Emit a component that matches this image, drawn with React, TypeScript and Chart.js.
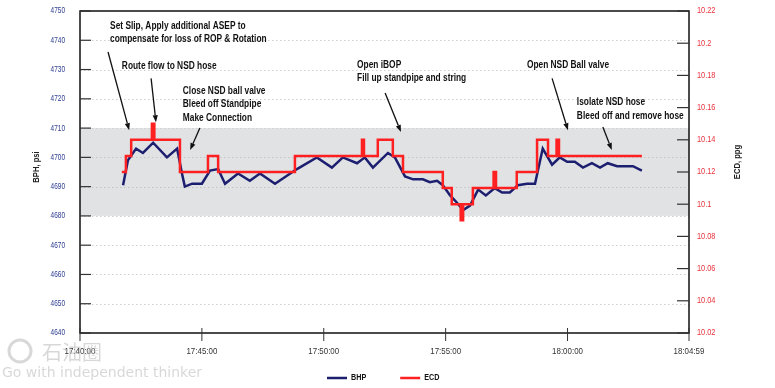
import React, { useEffect, useRef } from "react";
import { Chart, registerables } from "chart.js";
Chart.register(...registerables);

const startTime = "17:40:00";
const endTime = "18:04:59";
const xTickTimes = ["17:40:00", "17:45:00", "17:50:00", "17:55:00", "18:00:00", "18:04:59"];

const bhpTimes = [
  "17:41:46", "17:41:58", "17:42:18", "17:42:35", "17:43:00", "17:43:34", "17:43:59", "17:44:11",
  "17:44:18", "17:44:36", "17:45:00", "17:45:20", "17:45:40", "17:45:57", "17:46:29", "17:46:58",
  "17:47:23", "17:48:00", "17:48:54", "17:49:43", "17:50:20", "17:50:47", "17:51:22", "17:51:41",
  "17:52:01", "17:52:38", "17:52:55", "17:53:20", "17:53:40", "17:54:04", "17:54:21", "17:54:39",
  "17:54:53", "17:55:11", "17:55:28", "17:55:43", "17:56:00", "17:56:20", "17:56:39", "17:57:01",
  "17:57:19", "17:57:38", "17:57:58", "17:58:20", "17:58:40", "17:58:59", "17:59:22", "17:59:41",
  "17:59:59", "18:00:18", "18:00:38", "18:01:00", "18:01:20", "18:01:39", "18:02:02", "18:02:41",
  "18:03:03",
];
const bhpValues = [
  4690.5, 4699, 4703, 4701.5, 4705, 4700, 4703, 4694.5,
  4690, 4691, 4691, 4695.5, 4696, 4691, 4694.5, 4692,
  4694.5, 4691, 4696, 4700, 4696.5, 4700, 4698, 4700,
  4696.5, 4701.5, 4700, 4693.5, 4692.5, 4692.5, 4691.5, 4692,
  4690.5, 4687, 4684.5, 4682, 4683.5, 4689, 4687, 4689.5,
  4688, 4688, 4690.5, 4691, 4691, 4703, 4697.5, 4700,
  4698.5, 4698.5, 4696.5, 4698, 4696.5, 4698, 4697, 4697,
  4695.5,
];

const ecdTimes = [
  "17:41:43", "17:41:53", "17:42:06", "17:42:57", "17:43:03", "17:44:06", "17:45:15", "17:45:40",
  "17:48:49", "17:51:34", "17:51:39", "17:52:13", "17:52:50", "17:53:15", "17:54:53", "17:55:15",
  "17:55:37", "17:55:43", "17:56:07", "17:56:58", "17:57:04", "17:57:55", "17:58:45", "17:59:12",
  "17:59:33", "17:59:39", "18:03:03",
];
const ecdValues = [
  10.12, 10.13, 10.14, 10.15, 10.14, 10.12, 10.13, 10.12,
  10.13, 10.14, 10.13, 10.14, 10.13, 10.12, 10.11, 10.10,
  10.09, 10.10, 10.11, 10.12, 10.11, 10.12, 10.14, 10.13,
  10.14, 10.13, 10.13,
];

const bhpTicks = [4640, 4650, 4660, 4670, 4680, 4690, 4700, 4710, 4720, 4730, 4740, 4750];
const ecdTicks = [10.02, 10.04, 10.06, 10.08, 10.1, 10.12, 10.14, 10.16, 10.18, 10.2, 10.22];
const bandRange = [4680, 4710];

const annotations = [
  { lines: ["Set Slip, Apply additional ASEP to", "compensate for loss of ROP & Rotation"], at: ["17:41:14", 4745], from: ["17:41:09", 4736], to: ["17:42:01", 4709.3] },
  { lines: ["Route flow to NSD hose"], at: ["17:41:43", 4731.2], from: ["17:42:55", 4727], to: ["17:43:07", 4712] },
  { lines: ["Close NSD ball valve", "Bleed off Standpipe", "Make Connection"], at: ["17:44:13", 4722.7], from: ["17:44:55", 4710], to: ["17:44:31", 4702.5] },
  { lines: ["Open iBOP", "Fill up standpipe and string"], at: ["17:51:22", 4731.6], from: ["17:52:31", 4722], to: ["17:53:10", 4708.7] },
  { lines: ["Open NSD Ball valve"], at: ["17:58:20", 4731.6], from: ["17:59:22", 4727], to: ["18:00:01", 4709.3] },
  { lines: ["Isolate NSD hose", "Bleed off and remove hose"], at: ["18:00:23", 4718.9], from: ["18:01:27", 4710.4], to: ["18:01:49", 4702.5] },
];

const BHP_COLOR = "#1c1f6f";
const ECD_COLOR = "#ff2121";
const SANS = "'Liberation Sans', Arial, sans-serif";

const abs = (s: string) => {
  const [h, m, x] = s.split(":").map(Number);
  return h * 3600 + m * 60 + x;
};
const toSec = (s: string) => abs(s) - abs(startTime);
const fmtEcd = (v: number) => String(Number(v.toFixed(2)));

function narrowText(ctx: CanvasRenderingContext2D, text: string, x: number, y: number, sx: number, align: "left" | "right" | "center") {
  ctx.save();
  ctx.translate(x, y);
  ctx.scale(sx, 1);
  ctx.textAlign = align;
  ctx.fillText(text, 0, 0);
  ctx.restore();
}

const decorPlugin = {
  id: "decor",
  beforeDatasetsDraw(chart: any) {
    const { ctx, chartArea: a, scales } = chart;
    const y = scales.y;
    ctx.save();
    const top = y.getPixelForValue(bandRange[1]);
    const bot = y.getPixelForValue(bandRange[0]);
    ctx.fillStyle = "#e1e2e4";
    ctx.fillRect(a.left, top, a.right - a.left, bot - top);
    ctx.setLineDash([1.5, 2.5]);
    ctx.lineWidth = 1;
    bhpTicks.forEach((v) => {
      if (v === bhpTicks[0] || v === bhpTicks[bhpTicks.length - 1]) return;
      const py = Math.round(y.getPixelForValue(v)) + 0.5;
      ctx.strokeStyle = v > bandRange[0] && v < bandRange[1] ? "#c4c5c8" : "#cfcfcf";
      ctx.beginPath();
      ctx.moveTo(a.left, py);
      ctx.lineTo(a.right, py);
      ctx.stroke();
    });
    ctx.restore();
  },
  afterDatasetsDraw(chart: any) {
    const { ctx, chartArea: a, scales } = chart;
    const x = scales.x, y = scales.y, y1 = scales.y1;
    ctx.save();
    // frame
    ctx.strokeStyle = "#111";
    ctx.lineWidth = 1.5;
    ctx.strokeRect(a.left, a.top, a.right - a.left, a.bottom - a.top);
    // tick marks + labels
    ctx.lineWidth = 1.2;
    ctx.strokeStyle = "#333";
    ctx.textBaseline = "middle";
    ctx.font = `9px ${SANS}`;
    ctx.fillStyle = "#2a3a8f";
    bhpTicks.forEach((v) => {
      const py = y.getPixelForValue(v);
      ctx.beginPath(); ctx.moveTo(a.left, py); ctx.lineTo(a.left + 11, py); ctx.stroke();
      narrowText(ctx, String(v), a.left - 15, py, 0.72, "right");
    });
    ctx.font = `9px ${SANS}`;
    ctx.fillStyle = "#e8323c";
    ecdTicks.forEach((v) => {
      const py = y1.getPixelForValue(v);
      ctx.beginPath(); ctx.moveTo(a.right - 12, py); ctx.lineTo(a.right, py); ctx.stroke();
      narrowText(ctx, fmtEcd(v), a.right + 8, py, 0.82, "left");
    });
    ctx.lineWidth = 1;
    ctx.fillStyle = "#333";
    xTickTimes.forEach((t) => {
      const px = x.getPixelForValue(toSec(t));
      ctx.beginPath(); ctx.moveTo(px, a.bottom - 5); ctx.lineTo(px, a.bottom + 8); ctx.stroke();
      narrowText(ctx, t, px, a.bottom + 19, 0.88, "center");
    });
    // annotations
    ctx.fillStyle = "#111";
    ctx.strokeStyle = "#111";
    ctx.font = `bold 11px ${SANS}`;
    annotations.forEach((an) => {
      const tx = x.getPixelForValue(toSec(an.at[0] as string));
      const ty = y.getPixelForValue(an.at[1] as number);
      an.lines.forEach((l, i) => narrowText(ctx, l, tx, ty + i * 13.5, 0.76, "left"));
      const fx = x.getPixelForValue(toSec(an.from[0] as string));
      const fy = y.getPixelForValue(an.from[1] as number);
      const ex = x.getPixelForValue(toSec(an.to[0] as string));
      const ey = y.getPixelForValue(an.to[1] as number);
      const ang = Math.atan2(ey - fy, ex - fx);
      const hl = 7, hw = 2.6;
      const bx = ex - hl * Math.cos(ang), by = ey - hl * Math.sin(ang);
      ctx.lineWidth = 1.3;
      ctx.beginPath(); ctx.moveTo(fx, fy); ctx.lineTo(bx, by); ctx.stroke();
      ctx.beginPath();
      ctx.moveTo(ex, ey);
      ctx.lineTo(bx + hw * Math.sin(ang), by - hw * Math.cos(ang));
      ctx.lineTo(bx - hw * Math.sin(ang), by + hw * Math.cos(ang));
      ctx.closePath(); ctx.fill();
    });
    // axis titles
    ctx.font = `bold 9px ${SANS}`;
    ctx.fillStyle = "#222";
    ctx.save();
    ctx.translate(37, (a.top + a.bottom) / 2 - 5);
    ctx.rotate(-Math.PI / 2);
    narrowText(ctx, "BPH, psi", 0, 0, 0.85, "center");
    ctx.restore();
    ctx.save();
    ctx.translate(738, (a.top + a.bottom) / 2 - 10);
    ctx.rotate(-Math.PI / 2);
    narrowText(ctx, "ECD, ppg", 0, 0, 0.85, "center");
    ctx.restore();
    // legend
    ctx.font = `bold 9px ${SANS}`;
    let lx = 327;
    const ly = 378;
    chart.data.datasets.forEach((ds: any) => {
      ctx.strokeStyle = ds.borderColor;
      ctx.lineWidth = 2.5;
      ctx.beginPath(); ctx.moveTo(lx, ly); ctx.lineTo(lx + 20, ly); ctx.stroke();
      ctx.fillStyle = "#111";
      narrowText(ctx, ds.label, lx + 24, ly, 0.8, "left");
      lx += 24 + ctx.measureText(ds.label).width * 0.8 + 34;
    });
    // watermark
    ctx.globalAlpha = 0.55;
    ctx.fillStyle = "#b8b8b8";
    ctx.textAlign = "left";
    ctx.font = "20px 'Noto Sans CJK SC', sans-serif";
    ctx.fillText("石油圈", 42, 352);
    ctx.font = "14px 'DejaVu Sans', sans-serif";
    ctx.fillText("Go with independent thinker", 2, 373);
    ctx.lineWidth = 3;
    ctx.strokeStyle = "#b8b8b8";
    ctx.beginPath(); ctx.arc(20, 351, 11, 0, Math.PI * 2); ctx.stroke();
    ctx.restore();
  },
};

export default function App() {
  const ref = useRef<HTMLCanvasElement | null>(null);
  useEffect(() => {
    document.body.style.margin = "0";
    const canvas = ref.current!;
    const chart = new Chart(canvas, {
      type: "line",
      data: {
        datasets: [
          {
            label: "BHP",
            data: bhpTimes.map((t, i) => ({ x: toSec(t), y: bhpValues[i] })),
            borderColor: BHP_COLOR,
            borderWidth: 2.5,
            pointRadius: 0,
            tension: 0,
            yAxisID: "y",
            order: 2,
          },
          {
            label: "ECD",
            data: ecdTimes.map((t, i) => ({ x: toSec(t), y: ecdValues[i] })),
            borderColor: ECD_COLOR,
            borderWidth: 2.5,
            pointRadius: 0,
            stepped: "before",
            yAxisID: "y1",
            order: 1,
          },
        ],
      },
      options: {
        animation: false,
        responsive: false,
        events: [],
        layout: { padding: { top: 11, left: 0, right: 0, bottom: 0 } },
        plugins: { legend: { display: false }, tooltip: { enabled: false } },
        scales: {
          x: {
            type: "linear",
            min: toSec(startTime),
            max: toSec(endTime),
            grid: { display: false, drawTicks: false },
            border: { display: false },
            afterFit: (s: any) => { s.height = 55; },
            ticks: { display: false },
          },
          y: {
            position: "left",
            min: bhpTicks[0],
            max: bhpTicks[bhpTicks.length - 1],
            grid: { display: false, drawTicks: false },
            border: { display: false },
            afterFit: (s: any) => { s.width = 80; },
            ticks: { display: false },
          },
          y1: {
            position: "right",
            min: ecdTicks[0],
            max: ecdTicks[ecdTicks.length - 1],
            grid: { display: false, drawTicks: false },
            border: { display: false },
            afterFit: (s: any) => { s.width = 86; },
            ticks: { display: false },
          },
        },
      },
      plugins: [decorPlugin],
    });
    return () => chart.destroy();
  }, []);
  return <canvas ref={ref} width={775} height={388} style={{ display: "block" }} />;
}
